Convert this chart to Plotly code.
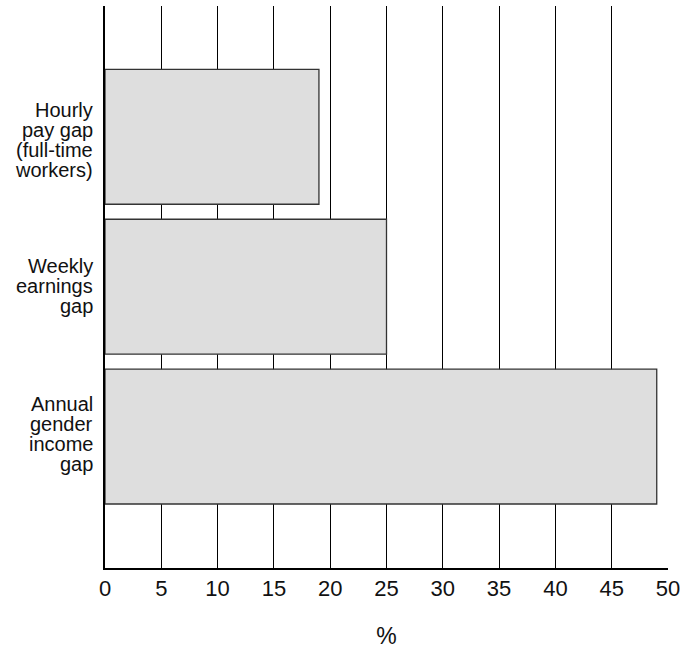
import plotly.graph_objects as go

categories = ["Hourly pay gap (full-time workers)", "Weekly earnings gap", "Annual gender income gap"]
label_lines = [["Hourly", "pay gap", "(full-time", "workers)"],
               ["Weekly", "earnings", "gap"],
               ["Annual", "gender", "income", "gap"]]
values = [19, 25, 49]
x_ticks = list(range(0, 51, 5))

fig = go.Figure(go.Bar(
    y=categories, x=values, orientation="h", width=0.9,
    marker=dict(color="#dedede", line=dict(color="#333333", width=1.3)),
    hoverinfo="skip",
))

# multi-line category labels with tight line spacing (20px), as in the reference
adjust = [-3, 1, 3]
annotations = []
for cat, lines, adj in zip(categories, label_lines, adjust):
    n = len(lines)
    for k, line in enumerate(lines):
        annotations.append(dict(
            x=0, xref="paper", y=cat, yref="y", text=line, showarrow=False,
            xanchor="right", yanchor="middle", xshift=-10,
            yshift=((n - 1) / 2 - k) * 20 + adj,
            font=dict(size=20, color="#111"),
        ))

fig.update_layout(
    width=683, height=649,
    margin=dict(l=105, r=15, t=6, b=81, autoexpand=False),
    paper_bgcolor="white", plot_bgcolor="white",
    font=dict(family="Liberation Sans, Arial, sans-serif", color="#111"),
    showlegend=False,
    annotations=annotations,
    xaxis=dict(
        range=[0, 50], tickvals=x_ticks, showgrid=True, gridcolor="#000", gridwidth=1,
        showline=True, linecolor="#000", linewidth=1.5, zeroline=False, automargin=False,
        tickfont=dict(size=22), ticks="", title=dict(text="%", font=dict(size=23), standoff=28),
    ),
    yaxis=dict(
        categoryorder="array", categoryarray=categories[::-1],
        range=[-0.877, 2.873], showgrid=False, zeroline=False, automargin=False,
        showline=True, linecolor="#000", linewidth=1.5,
        showticklabels=False, ticks="",
    ),
)

fig.write_html(
    "out.html",
    config={"displayModeBar": False},
    post_script="document.body.style.margin='0';document.body.style.overflow='hidden';",
)
